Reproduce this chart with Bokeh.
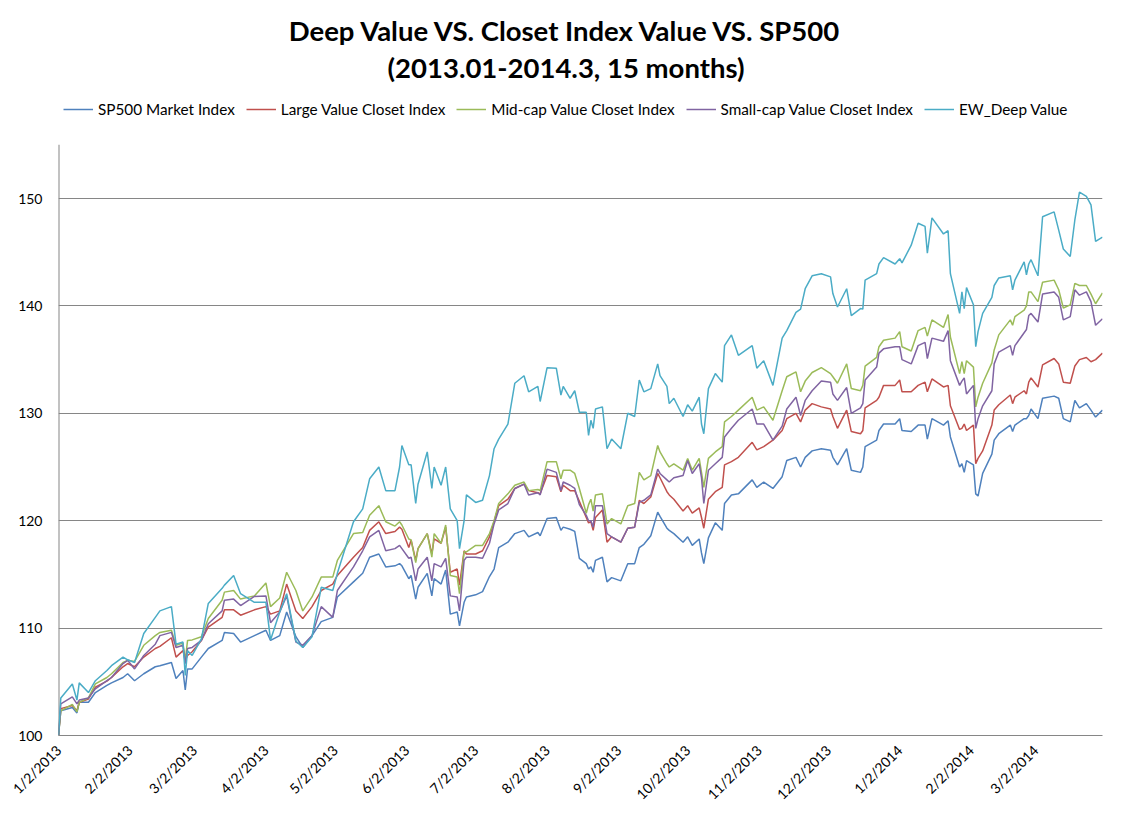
import pandas as pd
from bokeh.plotting import figure
from bokeh.models import (Range1d, FixedTicker, Label, Legend, LegendItem,
                          ColumnDataSource)
from bokeh.embed import file_html
from bokeh.resources import INLINE

DATES = [
"2013-01-02","2013-01-03","2013-01-08","2013-01-10","2013-01-11","2013-01-15","2013-01-18","2013-01-23","2013-01-25","2013-01-30",
"2013-02-01","2013-02-04","2013-02-08","2013-02-13","2013-02-15","2013-02-20","2013-02-22","2013-02-25","2013-02-26","2013-02-27",
"2013-03-01","2013-03-05","2013-03-08","2013-03-14","2013-03-15","2013-03-19",
"2013-03-22","2013-03-28","2013-04-02","2013-04-04","2013-04-08","2013-04-11","2013-04-15","2013-04-18","2013-04-22","2013-04-26",
"2013-05-01","2013-05-03","2013-05-10","2013-05-14","2013-05-17","2013-05-21","2013-05-24","2013-05-28",
"2013-05-30","2013-05-31","2013-06-03","2013-06-04","2013-06-06","2013-06-07","2013-06-11","2013-06-13","2013-06-14","2013-06-17",
"2013-06-19","2013-06-21","2013-06-24","2013-06-25","2013-06-27","2013-06-28","2013-07-02","2013-07-05","2013-07-08","2013-07-10",
"2013-07-12","2013-07-16","2013-07-19","2013-07-23","2013-07-25","2013-07-29","2013-07-30","2013-08-02","2013-08-06","2013-08-08",
"2013-08-09","2013-08-12","2013-08-14","2013-08-16","2013-08-19","2013-08-20","2013-08-21","2013-08-22","2013-08-23","2013-08-26",
"2013-08-28","2013-08-30","2013-09-03","2013-09-06","2013-09-09","2013-09-11","2013-09-13","2013-09-16","2013-09-19","2013-09-20",
"2013-09-23","2013-09-24","2013-09-26","2013-09-30","2013-10-02","2013-10-04","2013-10-07","2013-10-08","2013-10-09","2013-10-11",
"2013-10-14","2013-10-17","2013-10-18","2013-10-21","2013-10-24","2013-10-30","2013-11-01","2013-11-04","2013-11-08","2013-11-12",
"2013-11-14",
"2013-11-18","2013-11-20","2013-11-22","2013-11-25","2013-11-29","2013-12-03","2013-12-04","2013-12-06","2013-12-10","2013-12-12",
"2013-12-16","2013-12-17","2013-12-18","2013-12-23","2013-12-24","2013-12-26","2013-12-31","2014-01-02","2014-01-03","2014-01-07",
"2014-01-10","2014-01-13","2014-01-14","2014-01-16","2014-01-21","2014-01-23","2014-01-24","2014-01-28","2014-01-29","2014-01-30",
"2014-01-31","2014-02-03","2014-02-04","2014-02-05","2014-02-07","2014-02-11","2014-02-12","2014-02-14","2014-02-19","2014-02-20",
"2014-02-21","2014-02-25","2014-02-26","2014-02-27","2014-02-28","2014-03-03","2014-03-05","2014-03-10","2014-03-12","2014-03-14",
"2014-03-17","2014-03-19","2014-03-21","2014-03-24","2014-03-26","2014-03-28","2014-03-31"]

SP500 = [
100,102.3,102.6,102.1,103.1,103.1,104.0,104.66,104.9,105.4,
105.75,105.1,105.75,106.4,106.5,106.8,105.3,106.05,104.25,106.2,
106.2,107.3,108.1,108.85,109.6,109.5,
108.7,109.3,109.8,108.85,109.3,111.5,109.2,108.2,109.3,110.6,
111.0,112.9,114.3,115.1,116.6,116.9,115.7,115.8,
116.0,115.8,114.6,114.9,112.7,113.8,115.1,113.0,114.6,114.1,
115.4,111.3,111.5,110.2,112.4,112.9,113.1,113.4,114.8,115.5,
117.5,118.0,118.8,119.1,118.5,118.9,118.6,120.2,120.3,119.1,
119.4,119.2,119.0,116.5,116.0,115.5,115.7,115.2,116.3,116.6,
114.3,114.7,114.4,116.0,116.0,117.5,117.8,118.6,120.8,120.4,
119.3,119.1,118.8,118.0,118.5,117.7,118.3,117.0,116.0,118.4,
119.8,119.1,121.6,122.4,122.5,123.8,123.1,123.6,123.0,124.1,
125.6,
125.9,125.0,125.9,126.5,126.7,126.55,125.9,125.2,126.7,124.7,
124.5,125.0,126.9,127.5,128.4,129.0,129.0,129.5,128.4,128.3,
128.9,128.9,127.6,129.5,128.9,129.3,127.8,125.0,125.3,124.5,
125.6,125.2,122.5,122.3,124.4,126.2,127.5,128.1,128.9,128.3,
128.9,129.5,129.5,129.8,130.4,129.5,131.4,131.6,131.4,129.5,
129.2,131.2,130.5,130.9,130.3,129.65,130.3]

LARGE_VALUE = [
100,102.5,102.8,102.3,103.1,103.4,104.5,105.06,105.4,106.4,
106.7,106.4,107.3,108.1,108.3,109.1,107.3,107.9,107.0,107.45,
107.8,108.85,110.1,111.0,111.7,111.7,
111.2,111.7,112.0,111.3,111.6,114.1,111.6,110.9,112.0,113.5,
114.1,114.9,116.6,117.5,119.1,119.9,118.8,119.0,
119.4,119.2,117.5,118.2,116.3,117.4,118.8,116.9,118.3,117.9,
119.4,115.2,115.5,114.0,117.2,116.9,116.9,117.2,118.5,119.9,
121.4,122.0,123.0,123.4,122.8,122.6,122.5,124.2,124.1,122.7,
123.3,122.8,122.8,121.8,120.3,119.8,119.9,119.1,120.3,121.0,
118.0,118.5,118.0,119.3,119.4,121.9,121.6,122.2,124.4,124.0,
122.7,122.4,122.0,120.9,121.4,120.7,121.2,120.3,119.3,122.0,
122.7,123.1,125.2,125.5,125.9,127.3,126.6,126.9,127.5,128.4,
129.5,
130.0,129.2,130.3,130.9,130.6,130.4,129.7,128.6,130.3,128.3,
128.1,128.4,130.5,131.2,131.5,132.6,132.6,133.1,132.0,132.0,
132.6,132.9,132.0,133.2,132.45,132.6,130.7,128.5,128.6,129.0,
128.4,128.9,125.3,125.8,126.5,128.9,130.3,130.8,131.7,130.9,
131.5,132.1,131.8,132.9,133.3,132.45,134.5,135.1,134.6,132.9,
132.8,134.4,135.0,135.2,134.8,135.0,135.6]

MID_VALUE = [
100,102.3,102.9,102.2,103.1,103.5,104.8,105.4,105.75,106.8,
107.0,106.9,108.4,109.3,109.6,109.8,108.4,108.6,107.0,108.85,
108.9,109.2,110.9,112.6,113.35,113.5,
112.7,113.0,114.2,112.0,112.8,115.2,113.5,111.6,112.9,114.75,
114.75,116.3,118.8,118.9,120.5,121.4,119.9,119.5,
119.9,119.6,118.3,118.2,116.1,117.4,118.8,116.6,118.8,117.9,
119.6,114.9,114.75,113.2,117.1,117.1,117.7,117.7,118.8,120.0,
121.6,122.5,123.3,123.6,122.8,122.9,122.8,125.5,125.5,123.9,
124.7,124.7,124.4,123.0,120.7,121.5,122.0,120.9,122.4,122.5,
119.7,120.2,119.7,121.4,121.6,124.5,123.8,124.2,127.0,126.4,
125.3,125.0,125.3,124.7,125.8,124.7,125.8,124.5,123.1,125.8,
126.4,126.9,129.2,129.7,130.3,131.5,130.3,130.6,129.35,132.1,
133.4,
133.85,132.0,133.0,133.8,134.25,133.7,133.4,132.8,134.6,132.3,
132.1,132.6,134.4,135.2,136.2,136.8,137.0,137.6,136.2,135.8,
137.7,138.0,137.2,138.7,138.0,139.2,137.1,133.7,134.8,133.7,
134.9,134.3,130.6,131.5,132.8,134.7,135.9,137.3,138.7,138.2,
139.0,139.6,140.0,141.3,141.3,140.4,142.2,142.4,141.5,139.8,
140.1,142.1,141.9,141.9,141.1,140.2,141.2]

SMALL_VALUE = [
100,102.95,103.6,102.95,103.3,103.5,104.35,105.1,105.4,106.7,
107.0,106.2,107.45,108.5,109.3,109.6,108.2,108.4,106.7,108.1,
108.2,108.85,110.4,111.6,112.6,112.7,
112.1,112.95,113.0,110.5,111.5,113.0,108.7,108.4,109.3,112.0,
111.0,113.5,115.7,117.2,118.5,119.1,117.2,117.4,
117.7,117.4,116.5,116.6,114.4,115.5,116.6,114.4,116.0,115.7,
116.5,113.0,112.9,111.6,116.3,116.6,116.6,116.5,117.9,119.7,
121.0,121.6,123.0,123.4,122.4,122.6,122.4,124.8,124.5,122.8,
123.6,123.3,123.0,121.5,120.5,120.0,120.0,119.4,121.4,121.4,
118.8,118.5,118.0,119.3,119.4,121.7,121.9,122.4,124.8,124.4,
123.8,123.6,124.0,124.2,125.6,124.4,125.3,124.0,121.6,124.7,
125.3,125.9,127.8,128.6,129.35,130.4,129.0,129.0,127.5,128.8,
130.4,
131.5,129.8,131.2,132.1,133.0,132.9,131.8,131.2,132.4,130.0,
130.5,130.9,133.1,134.3,135.6,136.0,136.2,136.2,135.0,134.6,
136.3,136.6,135.1,137.0,136.7,137.7,134.9,132.6,133.0,133.3,
131.8,132.6,128.6,129.5,130.7,132.1,134.6,135.7,136.3,135.4,
136.3,137.5,137.8,139.1,139.3,138.5,141.1,141.3,140.8,138.7,
139.0,141.5,141.0,141.3,140.4,138.2,138.8]

EW_DEEP = [
100,103.5,104.8,103.3,104.9,104.0,105.1,106.05,106.5,107.3,
107.05,106.8,109.5,111.0,111.6,112.0,108.5,108.7,105.6,107.9,
107.45,109.0,112.3,113.7,114.0,114.9,
113.2,112.4,112.4,108.9,111.5,113.2,108.8,108.2,109.2,113.8,
113.5,115.1,119.9,121.1,123.9,125.0,122.8,122.8,
125.0,127.0,125.2,125.2,121.6,123.4,126.4,123.0,125.0,123.3,
125.0,121.1,120.0,117.4,120.0,122.4,121.7,121.9,124.2,126.7,
127.6,129.0,132.8,133.5,132.0,132.5,131.1,134.25,134.2,131.7,
132.5,131.4,132.1,130.1,130.1,127.95,129.35,128.6,130.4,130.6,
126.7,127.6,126.7,130.0,129.7,133.1,132.0,132.3,134.6,133.5,
132.5,130.9,131.4,129.7,130.8,130.2,131.5,129.0,128.1,132.3,
133.7,132.9,136.3,137.3,135.4,136.3,134.2,134.9,132.6,137.0,
137.7,
139.4,139.7,141.6,142.8,143.0,142.7,141.15,139.9,141.6,139.1,
139.75,139.7,142.4,143.0,143.9,144.5,143.9,144.4,144.0,145.65,
147.7,147.4,144.9,148.2,146.7,147.0,143.0,139.3,141.3,139.75,
141.7,140.1,136.2,137.6,139.3,140.8,141.9,142.6,142.8,141.5,
142.4,144.1,142.9,143.9,144.3,142.8,148.3,148.75,147.05,145.3,
144.6,148.0,150.6,150.2,149.4,146.0,146.4]

SERIES_NAMES = ["SP500 Market Index", "Large Value Closet Index",
                "Mid-cap Value Closet Index", "Small-cap Value Closet Index",
                "EW_Deep Value"]
COLORS = ["#4F81BD", "#C0504D", "#9BBB59", "#8064A2", "#4BACC6"]

TICK_DATES = ["2013-01-02", "2013-02-02", "2013-03-02", "2013-04-02", "2013-05-02",
              "2013-06-02", "2013-07-02", "2013-08-02", "2013-09-02", "2013-10-02",
              "2013-11-02", "2013-12-02", "2014-01-02", "2014-02-02", "2014-03-02"]
TICK_LABELS = ["1/2/2013", "2/2/2013", "3/2/2013", "4/2/2013", "5/2/2013",
               "6/2/2013", "7/2/2013", "8/2/2013", "9/2/2013", "10/2/2013",
               "11/2/2013", "12/2/2013", "1/2/2014", "2/2/2014", "3/2/2014"]
Y_TICKS = [100, 110, 120, 130, 140, 150]
Y_MIN, Y_MAX = 100, 155          # value axis extent
X_START, X_END = "2013-01-02", "2014-03-31"

TITLE_1 = "Deep Value VS. Closet Index Value VS. SP500"
TITLE_2 = "(2013.01-2014.3, 15 months)"

FONT = "Lato"
EPOCH = pd.Timestamp("1970-01-01")

W, H = 1131, 820
LEFT, RIGHT, BOTTOM = 58, 29, 85
PX_PER_UNIT = 10.74              # vertical scale of the value axis


def to_ms(s):
    return float((pd.Timestamp(s) - EPOCH) / pd.Timedelta(milliseconds=1))


src = ColumnDataSource(dict(
    date=[to_ms(d) for d in DATES],
    s0=SP500, s1=LARGE_VALUE, s2=MID_VALUE, s3=SMALL_VALUE, s4=EW_DEEP))

frame_h = H - BOTTOM
y_top = Y_MIN + frame_h / PX_PER_UNIT   # frame reaches the top of the canvas

p = figure(width=W, height=H, output_backend="svg", toolbar_location=None,
           x_axis_type="datetime",
           x_range=Range1d(to_ms(X_START), to_ms(X_END)),
           y_range=Range1d(Y_MIN, y_top),
           min_border_left=LEFT, min_border_right=RIGHT,
           min_border_top=0, min_border_bottom=BOTTOM)
p.outline_line_color = None
p.background_fill_color = "white"
p.border_fill_color = "white"

# value-axis line (only up to the axis maximum)
p.segment(x0=[to_ms(X_START)], y0=[Y_MIN], x1=[to_ms(X_START)], y1=[Y_MAX],
          line_color="#868686", line_width=2)

renderers = []
for i, key in enumerate(["s0", "s1", "s2", "s3", "s4"]):
    r = p.line(x="date", y=key, source=src, line_color=COLORS[i], line_width=1.5)
    renderers.append(r)

# axes
xa = p.xaxis[0]
xa.ticker = FixedTicker(ticks=[to_ms(d) for d in TICK_DATES])
xa.major_label_overrides = {to_ms(d): lab for d, lab in zip(TICK_DATES, TICK_LABELS)}
xa.major_label_orientation = 0.785398
xa.major_label_text_font = FONT
xa.major_label_text_font_size = "14px"
xa.major_label_text_color = "#000000"
xa.axis_line_color = "#868686"
xa.major_tick_line_color = None
xa.minor_tick_line_color = None
xa.major_label_standoff = 6

ya = p.yaxis[0]
ya.ticker = FixedTicker(ticks=Y_TICKS)
ya.major_label_text_font = FONT
ya.major_label_text_font_size = "14px"
ya.major_label_text_color = "#000000"
ya.axis_line_color = None
ya.major_tick_line_color = None
ya.minor_tick_line_color = None
ya.major_label_standoff = 10

p.xgrid.grid_line_color = None
p.ygrid.ticker = FixedTicker(ticks=Y_TICKS)
p.ygrid.grid_line_color = "#868686"
p.ygrid.grid_line_width = 1

# titles (screen units, measured from the frame's bottom-left)
cx = W / 2 - LEFT
for txt, top_y in [(TITLE_1, 30), (TITLE_2, 67)]:
    p.add_layout(Label(x=cx, y=frame_h - top_y, x_units="screen", y_units="screen",
                       text=txt, text_align="center", text_baseline="middle",
                       text_font=FONT, text_font_style="bold",
                       text_font_size="27.5px", text_color="#000000"))

legend = Legend(items=[LegendItem(label=SERIES_NAMES[i], renderers=[renderers[i]])
                       for i in range(5)],
                orientation="horizontal", location=(5, frame_h - 118),
                glyph_width=30, glyph_height=14, label_standoff=5, spacing=11,
                padding=0, margin=0, border_line_color=None,
                background_fill_alpha=0,
                label_text_font=FONT, label_text_font_size="15.3px",
                label_text_color="#000000")
p.add_layout(legend, "center")

open("out.html", "w").write(file_html(p, INLINE))
